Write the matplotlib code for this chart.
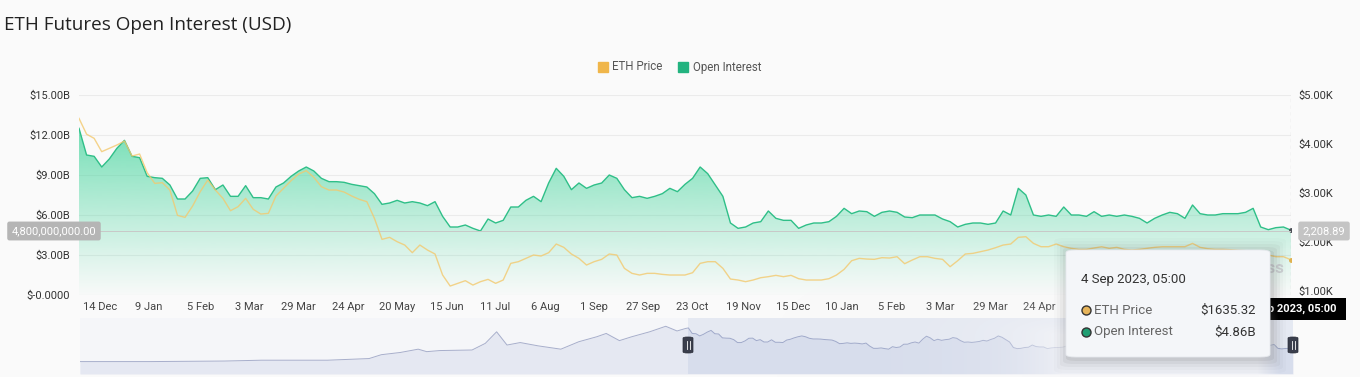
import matplotlib
matplotlib.use('Agg')
import matplotlib.pyplot as plt
import matplotlib.dates as mdates
import numpy as np
import pandas as pd
from matplotlib.patches import FancyBboxPatch, Rectangle
from matplotlib.lines import Line2D
from matplotlib.transforms import Bbox
from matplotlib.colors import to_rgb

# ---------------- data ----------------
START = '2021-12-03'
END = '2023-09-04'

open_interest_b = [
    12.5, 10.5, 10.4, 9.6, 10.2, 11.0, 11.6, 10.4, 10.3, 8.9,
    8.8, 8.75, 8.25, 7.2, 7.2, 7.8, 8.75, 8.8, 7.9, 8.25,
    7.4, 7.4, 8.2, 7.3, 7.3, 7.2, 8.1, 8.4, 8.9, 9.3,
    9.6, 9.3, 8.75, 8.5, 8.5, 8.45, 8.3, 8.2, 8.1, 7.6,
    6.8, 6.9, 7.1, 6.9, 7.0, 6.9, 6.7, 7.0, 5.9, 5.1,
    5.1, 5.25, 5.0, 4.8, 5.7, 5.4, 5.6, 6.6, 6.6, 7.1,
    7.4, 7.0, 8.4, 9.5, 8.9, 7.9, 8.4, 8.0, 8.25, 8.4,
    9.0, 8.75, 7.9, 7.3, 7.4, 7.25, 7.4, 7.6, 8.0, 7.75,
    8.3, 8.75, 9.6, 9.1, 8.25, 7.4, 5.4, 5.0, 5.1, 5.4,
    5.5, 6.3, 5.75, 5.6, 5.6, 5.0, 5.25, 5.4, 5.4, 5.5,
    5.9, 6.5, 6.1, 6.3, 6.25, 5.9, 6.2, 6.3, 6.2, 5.85,
    5.8, 6.0, 6.0, 6.0, 5.7, 5.5, 5.1, 5.3, 5.4, 5.4,
    5.3, 5.4, 6.3, 6.0, 8.0, 7.5, 6.0, 5.9, 6.0, 5.9,
    6.6, 6.0, 6.0, 5.9, 6.25, 5.9, 6.0, 5.9, 6.0, 5.9,
    5.75, 5.4, 5.75, 6.0, 6.2, 6.1, 5.75, 6.75, 6.1, 6.0,
    6.0, 6.1, 6.1, 6.1, 6.2, 6.5, 5.1, 4.9, 5.05, 5.1,
    4.86,
]

eth_price = [
    4523, 4200, 4115, 3843, 3911, 3979, 4060, 3754, 3795, 3414,
    3196, 3210, 3060, 2543, 2502, 2734, 3026, 3264, 3060, 2890,
    2638, 2720, 2890, 2666, 2570, 2584, 2938, 3094, 3251, 3387,
    3455, 3319, 3128, 3060, 3060, 3019, 2938, 2870, 2822, 2482,
    2053, 2094, 2005, 1937, 1781, 1937, 1835, 1754, 1325, 1100,
    1155, 1209, 1120, 1189, 1236, 1155, 1223, 1563, 1597, 1665,
    1733, 1713, 1781, 1958, 1890, 1754, 1665, 1529, 1597, 1645,
    1754, 1733, 1461, 1359, 1325, 1359, 1359, 1338, 1325, 1325,
    1325, 1372, 1563, 1597, 1597, 1461, 1243, 1223, 1189, 1223,
    1270, 1291, 1318, 1291, 1318, 1250, 1223, 1223, 1223, 1250,
    1325, 1440, 1617, 1665, 1651, 1645, 1679, 1672, 1699, 1556,
    1631, 1699, 1699, 1665, 1645, 1495, 1617, 1754, 1767, 1801,
    1835, 1883, 1937, 1958, 2094, 2107, 1971, 1903, 1903, 1958,
    1903, 1869, 1849, 1849, 1876, 1903, 1869, 1890, 1849, 1835,
    1849, 1869, 1890, 1903, 1903, 1903, 1903, 1971, 1890, 1862,
    1849, 1849, 1842, 1828, 1822, 1801, 1767, 1733, 1699, 1699,
    1635,
]

# navigator: earlier open-interest history (billions USD)
nav_hist_dates = ['2020-02-28', '2020-05-11', '2020-07-30', '2020-09-07', '2020-11-16',
                  '2020-12-30', '2021-01-12', '2021-02-01', '2021-02-20', '2021-03-01',
                  '2021-03-15', '2021-04-18', '2021-05-02', '2021-05-14', '2021-05-25',
                  '2021-06-08', '2021-06-27', '2021-07-21', '2021-08-09', '2021-08-28',
                  '2021-09-07', '2021-09-21', '2021-10-04', '2021-10-23', '2021-11-09',
                  '2021-11-21', '2021-11-30']
nav_hist_oi = [0.3, 0.3, 0.5, 0.8, 0.8, 1.4, 2.8, 3.6, 4.8, 3.9,
               4.3, 4.5, 6.9, 11.1, 6.3, 7.2, 6.0, 4.8, 7.5, 9.3,
               10.5, 7.9, 9.3, 11.1, 13.1, 11.4, 12.3]

tick_dates = ['2021-12-14', '2022-01-09', '2022-02-05', '2022-03-03', '2022-03-29',
              '2022-04-24', '2022-05-20', '2022-06-15', '2022-07-11', '2022-08-06',
              '2022-09-01', '2022-09-27', '2022-10-23', '2022-11-19', '2022-12-15',
              '2023-01-10', '2023-02-05', '2023-03-03', '2023-03-29', '2023-04-24']
tick_labels = ['14 Dec', '9 Jan', '5 Feb', '3 Mar', '29 Mar', '24 Apr', '20 May', '15 Jun',
               '11 Jul', '6 Aug', '1 Sep', '27 Sep', '23 Oct', '19 Nov', '15 Dec', '10 Jan',
               '5 Feb', '3 Mar', '29 Mar', '24 Apr']

left_ticks = [0, 3, 6, 9, 12, 15]
left_labels = ['$-0.0000', '$3.00B', '$6.00B', '$9.00B', '$12.00B', '$15.00B']
right_ticks = [1000, 2000, 3000, 4000, 5000]
right_labels = ['$1.00K', '$2.00K', '$3.00K', '$4.00K', '$5.00K']

crosshair_oi = 4.8
crosshair_price = 2208.89
tooltip_date = '4 Sep 2023, 05:00'
tooltip_price = '$1635.32'
tooltip_oi = '$4.86B'

# ---------------- figure ----------------
W, H = 1360, 377
BG = '#fafafa'
GREEN = '#2fbf88'
GREEN_FILL = '#3fd49a'
YELLOW = '#f3c96e'
FONT = ['Roboto', 'DejaVu Sans']

plt.rcParams['font.family'] = FONT
fig = plt.figure(figsize=(W / 100, H / 100), dpi=100)
fig.patch.set_facecolor(BG)


def fx(px):
    return px / W


def fy(py):
    return 1 - py / H


def box(x0, y0, x1, y1):
    return [fx(x0), fy(y1), fx(x1) - fx(x0), fy(y0) - fy(y1)]


dates = pd.date_range(START, periods=len(open_interest_b), freq='4D')
xs = mdates.date2num(dates)
x_start = mdates.date2num(pd.Timestamp(START))
x_end = mdates.date2num(pd.Timestamp(END))

# ---------------- main chart ----------------
ax = fig.add_axes(box(79, 95, 1291, 295))
ax2 = ax.twinx()
ax.set_facecolor(BG)
ax2.patch.set_visible(False)

# open interest area (left axis)
poly = ax.fill_between(xs, open_interest_b, 0, color='none', lw=0)
rgb = to_rgb(GREEN_FILL)
n = 256
img = np.zeros((n, 1, 4))
img[..., 0], img[..., 1], img[..., 2] = rgb
img[:, 0, 3] = np.linspace(0.02, 0.88, n) ** 1.1
im = ax.imshow(img, extent=[xs[0], xs[-1], 0, 15], aspect='auto', origin='lower',
               zorder=1, interpolation='bilinear')
im.set_clip_path(poly.get_paths()[0], transform=ax.transData)
ax.plot(xs, open_interest_b, color=GREEN, lw=1.0, zorder=3)
ax.plot([xs[-1]], [open_interest_b[-1]], 'o', ms=2.5, color='#4a4f55', zorder=4)

# price line (right axis)
ax2.plot(xs, eth_price, color=YELLOW, lw=1.0, alpha=0.8, zorder=2)
ax2.plot([xs[-1]], [eth_price[-1]], 'o', ms=2.5, color='#e0b24f', zorder=3)
ax2.set_ylim(917, 5000)
ax2.set_yticks(right_ticks)
ax2.set_yticklabels(right_labels)

ax.set_xlim(x_start, x_end)
ax.set_ylim(0, 15)
ax.set_yticks(left_ticks)
ax.set_yticklabels(left_labels)
ax.grid(axis='y', color='#ebebeb', lw=0.8)
ax.set_axisbelow(True)
ax.set_xticks(mdates.date2num(pd.to_datetime(tick_dates)))
ax.set_xticklabels(tick_labels)

for a in (ax, ax2):
    for s in a.spines.values():
        s.set_visible(False)
ax.tick_params(axis='y', length=0, pad=6.5, labelsize=8, labelcolor='#333333')
ax.tick_params(axis='x', length=0, pad=5, labelsize=8, labelcolor='#444444')
ax2.tick_params(axis='y', length=0, pad=5.5, labelsize=8, labelcolor='#333333')
ax2.tick_params(axis='x', bottom=False, labelbottom=False)
ax.set_xlim(x_start, x_end)

# crosshair
ax.axhline(crosshair_oi, color='#c8c8c8', lw=0.7, zorder=5)
ax.axvline(xs[-1], color='#9a9a9a', lw=0.8, ls=(0, (3, 3)), zorder=5)

# ---------------- title & legend ----------------
fig.text(fx(4), fy(25), 'ETH Futures Open Interest (USD)', fontsize=13.6,
         family=['Open Sans', 'DejaVu Sans'], color='#222222', va='center', ha='left')

fig.patches.append(Rectangle((fx(598), fy(72)), fx(10), fy(62) - fy(72), color='#f0b64a',
                             transform=fig.transFigure, figure=fig))
fig.text(fx(612), fy(67), 'ETH Price', fontsize=8.3, color='#555555', va='center', ha='left')
fig.patches.append(Rectangle((fx(678), fy(72)), fx(10), fy(62) - fy(72), color='#22b37f',
                             transform=fig.transFigure, figure=fig))
fig.text(fx(693), fy(67), 'Open Interest', fontsize=8.3, color='#555555', va='center', ha='left')

# crosshair labels
fig.text(fx(54), fy(231), f'{crosshair_oi * 1e9:,.2f}', fontsize=8, color='white',
         ha='center', va='center', zorder=6,
         bbox=dict(boxstyle='round,pad=0.4,rounding_size=0.2', fc='#b5b5b5', ec='none'))
fig.text(fx(1324), fy(231), f'{crosshair_price:,.2f}', fontsize=8, color='white',
         ha='center', va='center', zorder=6,
         bbox=dict(boxstyle='round,pad=0.4,rounding_size=0.2', fc='#c4c4c4', ec='none'))

# x crosshair label (partly hidden behind the tooltip)
fig.patches.append(Rectangle((fx(1236), fy(320)), fx(110), fy(298) - fy(320), fc='#000000',
                             ec='none', transform=fig.transFigure, figure=fig, zorder=8))
xlab = fig.text(fx(1291), fy(309), tooltip_date, fontsize=8, color='white', weight='bold',
                ha='center', va='center', zorder=8.5)
xlab.set_clip_box(Bbox.from_extents(1271, 0, W, H))

# watermark
fig.text(fx(1284), fy(268), 'coinglass', fontsize=12, color='#cfd3d6', weight='bold',
         ha='right', va='center', zorder=2)

# ---------------- navigator ----------------
nav = fig.add_axes(box(80, 318, 1293, 374))
nav.set_facecolor('#f5f6f9')
nav_x = np.concatenate([mdates.date2num(pd.to_datetime(nav_hist_dates)), xs])
nav_y = np.concatenate([nav_hist_oi, open_interest_b])
nav.fill_between(nav_x, nav_y, -4.2, color='#e5e8f2', lw=0, zorder=1)
nav.plot(nav_x, nav_y, color='#a7aecb', lw=0.7, zorder=2)
nav.axvspan(x_start, x_end, color='#6685c2', alpha=0.11, lw=0, zorder=3)
nav.set_xlim(mdates.date2num(pd.Timestamp(nav_hist_dates[0])), x_end)
nav.set_ylim(-4.2, 16.1)
nav.set_xticks([])
nav.set_yticks([])
for s in nav.spines.values():
    s.set_visible(False)

for hx in (688, 1293):
    fig.patches.append(FancyBboxPatch((fx(hx - 5), fy(353)), fx(10), fy(337) - fy(353),
                                      boxstyle='round,pad=0,rounding_size=0.003',
                                      fc='#3a3e4c', ec='#2a2d38', lw=0.5,
                                      transform=fig.transFigure, figure=fig, zorder=12))
    for dx in (-1.5, 1.5):
        fig.lines.append(Line2D([fx(hx + dx), fx(hx + dx)], [fy(349), fy(341)],
                                color='white', lw=0.6, transform=fig.transFigure,
                                figure=fig, zorder=13))

# ---------------- tooltip glow / shadow ----------------
glow = fig.add_axes([0, 0, 1, 1], zorder=9)
glow.set_axis_off()
gx, gy = np.meshgrid(np.arange(W) + 0.5, np.arange(H) + 0.5)
dx_ = np.maximum(1062 - gx, 0) / 55.0
dy_ = np.maximum(335 - gy, 0) / 18.0
dist = np.hypot(dx_, dy_)
glow_img = np.ones((H, W, 4))
glow_img[..., :3] = to_rgb('#f7f7f9')
fade_right = np.clip((1280 - gx) / 22.0, 0, 1)
glow_img[..., 3] = 0.7 * np.exp(-dist) * fade_right
glow.imshow(glow_img, extent=[0, W, H, 0], aspect='auto', interpolation='bilinear')
glow.set_xlim(0, W)
glow.set_ylim(H, 0)

for i, a in enumerate([0.05, 0.04, 0.03, 0.02, 0.015]):
    g = 2 + i * 3
    fig.patches.append(FancyBboxPatch((fx(1066 - g + 2), fy(357 + g + 2)),
                                      fx(204 + 2 * g), fy(250 - g) - fy(357 + g),
                                      boxstyle='round,pad=0,rounding_size=0.008',
                                      fc='#000000', alpha=a, ec='none',
                                      transform=fig.transFigure, figure=fig, zorder=9.5))
fig.patches.append(FancyBboxPatch((fx(1066), fy(357)), fx(204), fy(250) - fy(357),
                                  boxstyle='round,pad=0,rounding_size=0.007',
                                  fc='#f4f6f9', ec='#e6e9ee', lw=0.6,
                                  transform=fig.transFigure, figure=fig, zorder=10))
fig.text(fx(1081), fy(279), tooltip_date, fontsize=9.5, color='#333333',
         ha='left', va='center', zorder=11)
for yy, fc, name, val in [(310, '#e6b45a', 'ETH Price', tooltip_price),
                          (332, '#1f9e73', 'Open Interest', tooltip_oi)]:
    fig.lines.append(Line2D([fx(1086)], [fy(yy)], marker='o', ms=6.5, mfc=fc, mec='#333333',
                            mew=1.0, ls='none', transform=fig.transFigure, figure=fig,
                            zorder=11))
    fig.text(fx(1094), fy(yy), name, fontsize=9.5, color='#666666',
             ha='left', va='center', zorder=11)
    fig.text(fx(1256), fy(yy), val, fontsize=9.5, color='#333333',
             ha='right', va='center', zorder=11)

fig.savefig('out.png', dpi=100, facecolor=BG)
